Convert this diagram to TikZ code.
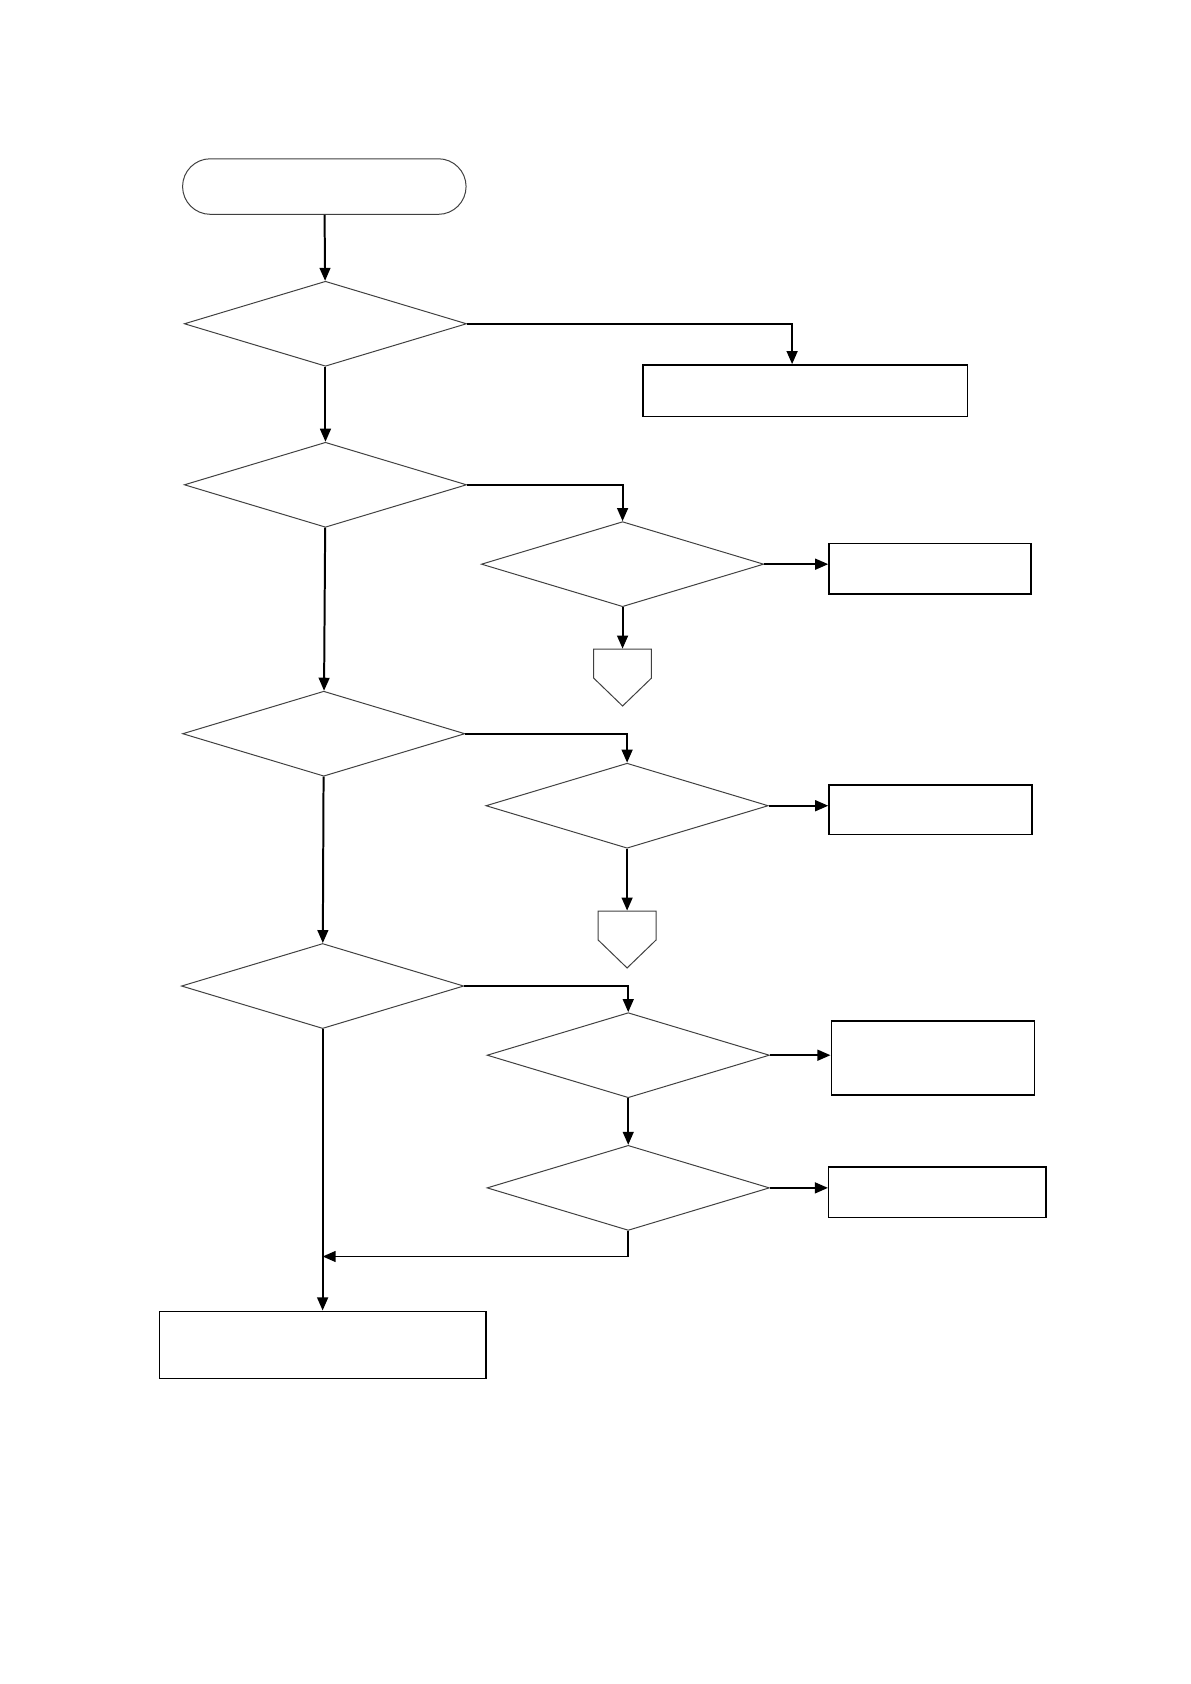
\documentclass[tikz,border=0pt]{standalone}
\usepackage{tikz}
\usetikzlibrary{positioning, shapes, arrows.meta, calc}

\begin{document}
\begin{tikzpicture}[
    decision/.style={diamond, draw=black!75, line width=0.5pt, inner sep=0pt, aspect=3.3, minimum width=4.98cm, minimum height=1.5cm},
    box/.style={rectangle, draw, line width=0.7pt, inner sep=0pt},
    terminal/.style={rectangle, rounded corners=0.49cm, draw=black!75, line width=0.5pt, minimum width=5cm, minimum height=0.98cm},
    offpage/.style={signal, signal to=south, signal from=nowhere, signal pointer angle=92, draw=black!75, line width=0.5pt, inner sep=0pt, minimum width=1.02cm, minimum height=0.51cm},
    flow/.style={line width=1pt, -{Triangle[length=2.3mm, width=1.9mm]}},
    link/.style={line width=1pt}
  ]
        \useasboundingbox (0,0) rectangle (21,-29.7);

        % Main column
        \node[terminal] (start) at (5.72,-3.29) {};
        \node[decision] (dec1) at (5.74,-5.71) {};
        \node[decision] (dec2) at (5.74,-8.55) {};
        \node[decision] (dec3) at (5.71,-12.94) {};
        \node[decision] (dec4) at (5.69,-17.39) {};
        \node[box, minimum width=5.76cm, minimum height=1.19cm] (endbox) at (5.69,-23.72) {};

        % Right branches
        \node[box, minimum width=5.72cm, minimum height=0.91cm] (box1) at (14.20,-6.89) {};

        \node[decision] (dec2a) at (10.98,-9.95) {};
        \node[box, minimum width=3.56cm, minimum height=0.89cm] (box2) at (16.40,-10.03) {};
        \node[offpage, anchor=north] (off2) at (10.98,-11.44) {};

        \node[decision] (dec3a) at (11.06,-14.21) {};
        \node[box, minimum width=3.58cm, minimum height=0.87cm] (box3) at (16.41,-14.28) {};
        \node[offpage, anchor=north] (off3) at (11.06,-16.06) {};

        \node[decision] (dec4a) at (11.08,-18.61) {};
        \node[box, minimum width=3.58cm, minimum height=1.31cm] (box4a) at (16.45,-18.66) {};
        \node[decision] (dec4b) at (11.08,-20.95) {};
        \node[box, minimum width=3.83cm, minimum height=0.89cm] (box4b) at (16.53,-21.03) {};

        \coordinate (join) at (dec4.south |- 0,-22.16);

        % Connectors, main column
        \draw[flow] (start) -- (dec1);
        \draw[flow] (dec1) -- (dec2);
        \draw[flow] (dec2) -- (dec3);
        \draw[flow] (dec3) -- (dec4);
        \draw[flow] (dec4.south) -- (endbox.north);

        % Connectors, branches
        \draw[flow] (dec1.east) -| ([xshift=-0.23cm]box1.north);
        \draw[flow] (dec2.east) -| (dec2a.north);
        \draw[flow] (dec2a.east) -- (dec2a.east -| box2.west);
        \draw[flow] (dec2a.south) -- (off2.north);
        \draw[flow] (dec3.east) -| (dec3a.north);
        \draw[flow] (dec3a.east) -- (dec3a.east -| box3.west);
        \draw[flow] (dec3a.south) -- (off3.north);
        \draw[flow] (dec4.east) -| (dec4a.north);
        \draw[flow] (dec4a.east) -- (dec4a.east -| box4a.west);
        \draw[flow] (dec4a.south) -- (dec4b.north);
        \draw[flow] (dec4b.east) -- (dec4b.east -| box4b.west);
        \draw[flow] (dec4b.south) |- (join);
      \end{tikzpicture}
\end{document}
